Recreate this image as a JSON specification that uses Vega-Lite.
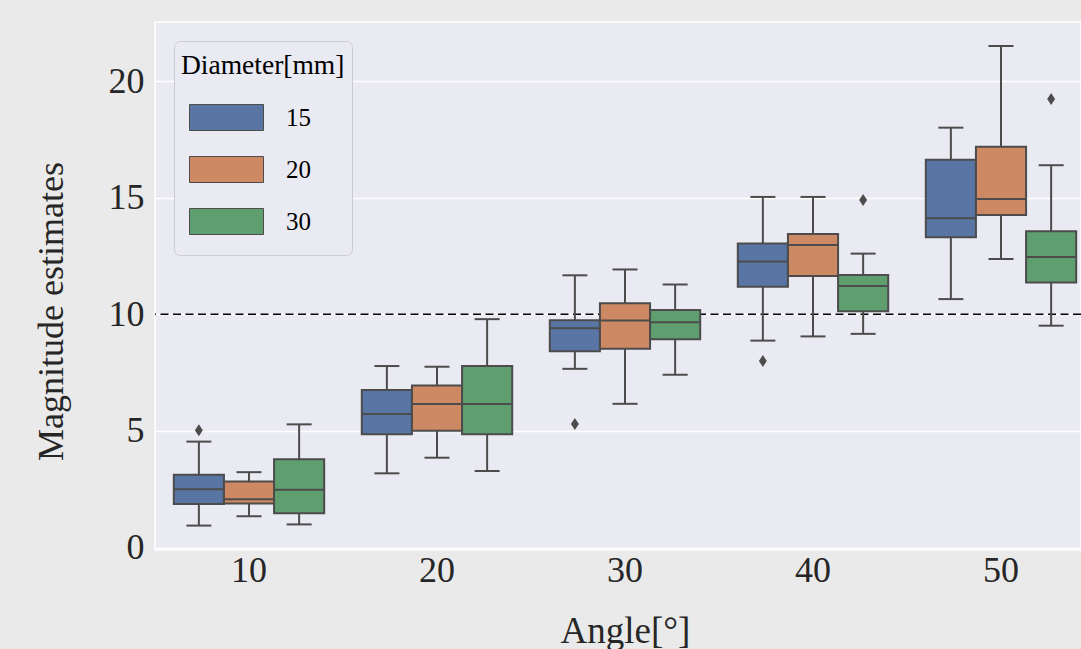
{
  "$schema": "https://vega.github.io/schema/vega-lite/v6.json",
  "width": 926,
  "height": 528,
  "autosize": {"type": "none"},
  "padding": {"left": 155, "top": 22, "right": 0, "bottom": 99},
  "background": "#eaeaea",
  "config": {
    "font": "Liberation Serif",
    "view": {"fill": "#eaeaf2", "stroke": "#ffffff", "strokeWidth": 1.5},
    "axis": {
      "labelFont": "Liberation Serif",
      "titleFont": "Liberation Serif",
      "labelFontSize": 36,
      "titleFontSize": 36,
      "titleFontWeight": "normal",
      "labelColor": "#262626",
      "titleColor": "#262626",
      "domain": false,
      "ticks": false,
      "tickSize": 0,
      "gridColor": "#ffffff",
      "gridWidth": 1.5,
      "gridOpacity": 1
    }
  },
  "datasets": {
    "boxes": [
      {"angle": "10", "diameter": "15", "lower": 0.94, "q1": 1.86, "median": 2.50, "q3": 3.12, "upper": 4.54},
      {"angle": "10", "diameter": "20", "lower": 1.34, "q1": 1.89, "median": 2.07, "q3": 2.83, "upper": 3.23},
      {"angle": "10", "diameter": "30", "lower": 0.99, "q1": 1.47, "median": 2.48, "q3": 3.78, "upper": 5.28},
      {"angle": "20", "diameter": "15", "lower": 3.18, "q1": 4.86, "median": 5.72, "q3": 6.75, "upper": 7.78},
      {"angle": "20", "diameter": "20", "lower": 3.85, "q1": 5.01, "median": 6.15, "q3": 6.95, "upper": 7.75},
      {"angle": "20", "diameter": "30", "lower": 3.28, "q1": 4.86, "median": 6.15, "q3": 7.78, "upper": 9.79},
      {"angle": "30", "diameter": "15", "lower": 7.66, "q1": 8.41, "median": 9.40, "q3": 9.74, "upper": 11.67},
      {"angle": "30", "diameter": "20", "lower": 6.16, "q1": 8.52, "median": 9.73, "q3": 10.47, "upper": 11.92},
      {"angle": "30", "diameter": "30", "lower": 7.41, "q1": 8.93, "median": 9.66, "q3": 10.18, "upper": 11.28},
      {"angle": "40", "diameter": "15", "lower": 8.87, "q1": 11.18, "median": 12.26, "q3": 13.03, "upper": 15.03},
      {"angle": "40", "diameter": "20", "lower": 9.05, "q1": 11.64, "median": 12.97, "q3": 13.44, "upper": 15.03},
      {"angle": "40", "diameter": "30", "lower": 9.16, "q1": 10.13, "median": 11.21, "q3": 11.68, "upper": 12.60},
      {"angle": "50", "diameter": "15", "lower": 10.65, "q1": 13.30, "median": 14.12, "q3": 16.62, "upper": 18.00},
      {"angle": "50", "diameter": "20", "lower": 12.37, "q1": 14.26, "median": 14.94, "q3": 17.18, "upper": 21.50},
      {"angle": "50", "diameter": "30", "lower": 9.51, "q1": 11.36, "median": 12.46, "q3": 13.56, "upper": 16.39}
    ],
    "outliers": [
      {"angle": "10", "diameter": "15", "value": 5.03},
      {"angle": "30", "diameter": "15", "value": 5.30},
      {"angle": "40", "diameter": "15", "value": 8.00},
      {"angle": "40", "diameter": "30", "value": 14.90},
      {"angle": "50", "diameter": "30", "value": 19.23}
    ]
  },
  "layer": [
    {
      "data": {"values": [{}]},
      "mark": {"type": "rule", "color": "#000000", "strokeWidth": 1.4, "strokeDash": [8, 4.5]},
      "encoding": {"y": {"datum": 10, "type": "quantitative"}}
    },
    {
      "data": {"name": "boxes"},
      "mark": {"type": "rule", "color": "#4c4c4c", "strokeWidth": 2},
      "encoding": {
        "x": {"field": "angle", "type": "nominal", "sort": ["10", "20", "30", "40", "50"],
              "scale": {"range": [0, 940], "paddingInner": 0.2, "paddingOuter": 0.1},
              "axis": {"title": "Angle[°]", "labelAngle": 0, "grid": false, "labelBaseline": "alphabetic", "labelPadding": 31.5, "titleBaseline": "alphabetic", "titleY": 92, "titleFontSize": 37}},
        "xOffset": {"field": "diameter", "type": "nominal", "scale": {"paddingInner": 0, "paddingOuter": 0}},
        "y": {"field": "lower", "type": "quantitative",
              "scale": {"domain": [-0.107, 22.53], "nice": false, "zero": false},
              "axis": {"title": "Magnitude estimates", "values": [0, 5, 10, 15, 20], "grid": true, "labelPadding": 11, "titleAngle": -90, "titleAlign": "center", "titleBaseline": "alphabetic", "titleX": -93, "titleY": 289}},
        "y2": {"field": "upper"}
      }
    },
    {
      "data": {"name": "boxes"},
      "mark": {"type": "bar", "stroke": "#4c4c4c", "strokeWidth": 2, "opacity": 1},
      "encoding": {
        "x": {"field": "angle", "type": "nominal", "sort": ["10", "20", "30", "40", "50"]},
        "xOffset": {"field": "diameter", "type": "nominal"},
        "y": {"field": "q1", "type": "quantitative"},
        "y2": {"field": "q3"},
        "color": {"field": "diameter", "type": "nominal",
                  "scale": {"domain": ["15", "20", "30"], "range": ["#5975a4", "#cc8963", "#5f9e6e"]},
                  "legend": {"orient": "none", "legendX": 19, "legendY": 19, "title": "Diameter[mm]",
                             "fillColor": "#eaeaf2", "strokeColor": "#cccccc", "cornerRadius": 6, "padding": 7,
                             "symbolType": "M-0.686,-0.51H2.216V0.51H-0.686Z", "symbolSize": 2601,
                             "symbolStrokeColor": "#4c4c4c", "symbolStrokeWidth": 1, "symbolOpacity": 1,
                             "labelOffset": 53, "clipHeight": 52, "rowPadding": 0, "titlePadding": 16,
                             "titleBaseline": "line-top", "titleLineHeight": 37,
                             "titleFontSize": 27.5, "labelFontSize": 25, "titleFont": "Liberation Serif", "labelFont": "Liberation Serif",
                             "titleFontWeight": "normal", "titleColor": "#000000", "labelColor": "#000000"}}
      }
    },
    {
      "data": {"name": "boxes"},
      "mark": {"type": "tick", "color": "#4c4c4c", "thickness": 2, "size": 50, "opacity": 1},
      "encoding": {
        "x": {"field": "angle", "type": "nominal", "sort": ["10", "20", "30", "40", "50"]},
        "xOffset": {"field": "diameter", "type": "nominal"},
        "y": {"field": "median", "type": "quantitative"}
      }
    },
    {
      "data": {"name": "boxes"},
      "mark": {"type": "tick", "color": "#4c4c4c", "thickness": 2, "size": 25, "opacity": 1},
      "encoding": {
        "x": {"field": "angle", "type": "nominal", "sort": ["10", "20", "30", "40", "50"]},
        "xOffset": {"field": "diameter", "type": "nominal"},
        "y": {"field": "lower", "type": "quantitative"}
      }
    },
    {
      "data": {"name": "boxes"},
      "mark": {"type": "tick", "color": "#4c4c4c", "thickness": 2, "size": 25, "opacity": 1},
      "encoding": {
        "x": {"field": "angle", "type": "nominal", "sort": ["10", "20", "30", "40", "50"]},
        "xOffset": {"field": "diameter", "type": "nominal"},
        "y": {"field": "upper", "type": "quantitative"}
      }
    },
    {
      "data": {"name": "outliers"},
      "mark": {"type": "point", "shape": "M0,-1L0.66,0L0,1L-0.66,0Z", "size": 144, "filled": true, "color": "#4c4c4c", "opacity": 1},
      "encoding": {
        "x": {"field": "angle", "type": "nominal", "sort": ["10", "20", "30", "40", "50"]},
        "xOffset": {"field": "diameter", "type": "nominal"},
        "y": {"field": "value", "type": "quantitative"}
      }
    }
  ]
}
